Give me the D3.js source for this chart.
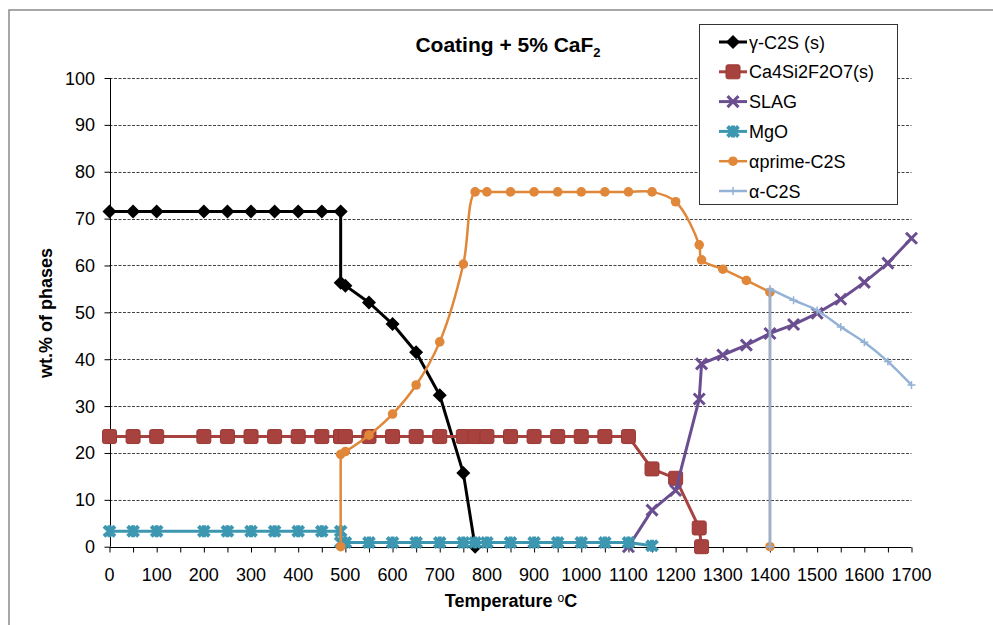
<!DOCTYPE html>
<html>
<head>
    <title>Coating + 5% CaF2</title>
    <style>
        body { margin: 0; background: #fff; }
        text { font-family: "Liberation Sans", Arial, sans-serif; fill: #000; }
        .grid line { stroke: #444; stroke-dasharray: 3,1.5; stroke-width: 1; }
        .tick-label { font-size: 18px; }
        .axis-title { font-size: 18px; font-weight: bold; }
        .legend-text { font-size: 18px; }
    </style>
</head>
<body>
    <div id="chart"></div>

    <script src="https://cdnjs.cloudflare.com/ajax/libs/d3/7.8.5/d3.min.js"></script>
    <script>
        // temperatures (some repeated: two values read at the same temperature)
        var temps = [0, 50, 100, 200, 250, 300, 350, 400, 450, 490, 490, 500, 550, 600, 650, 700, 750, 775,
            800, 850, 900, 950, 1000, 1050, 1100, 1150, 1200, 1250, 1255, 1300, 1350, 1400, 1400,
            1450, 1500, 1550, 1600, 1650, 1700];

        var gammaC2S = [71.5, 71.5, 71.5, 71.5, 71.5, 71.5, 71.5, 71.5, 71.5, 71.5, 56.3, 55.7, 52.1, 47.5, 41.5, 32.3, 15.7, 0,
            null, null, null, null, null, null, null, null, null, null, null, null, null, null, null,
            null, null, null, null, null, null];
        var ca4Si2F2O7 = [23.5, 23.5, 23.5, 23.5, 23.5, 23.5, 23.5, 23.5, 23.5, 23.5, 23.5, 23.5, 23.5, 23.5, 23.5, 23.5, 23.5, 23.5,
            23.5, 23.5, 23.5, 23.5, 23.5, 23.5, 23.5, 16.6, 14.6, 4.0, 0, null, null, null, null,
            null, null, null, null, null, null];
        var slag = [null, null, null, null, null, null, null, null, null, null, null, null, null, null, null, null, null, null,
            null, null, null, null, null, null, 0, 7.8, 12.0, 31.5, 39.0, 40.9, 43.0, 45.5, null,
            47.4, 49.8, 52.8, 56.4, 60.5, 65.8];
        var mgo = [3.3, 3.3, 3.3, 3.3, 3.3, 3.3, 3.3, 3.3, 3.3, 3.3, 0.9, 0.9, 0.9, 0.9, 0.9, 0.9, 0.9, 0.9,
            0.9, 0.9, 0.9, 0.9, 0.9, 0.9, 0.9, 0.2, null, null, null, null, null, null, null,
            null, null, null, null, null, null];
        var alphaPrimeC2S = [null, null, null, null, null, null, null, null, null, 0, 19.7, 20.3, 23.8, 28.3, 34.5, 43.7, 60.3, 75.7,
            75.7, 75.7, 75.7, 75.7, 75.7, 75.7, 75.7, 75.7, 73.6, 64.4, 61.2, 59.2, 56.8, 54.3, 0,
            null, null, null, null, null, null];
        var alphaC2S = [null, null, null, null, null, null, null, null, null, null, null, null, null, null, null, null, null, null,
            null, null, null, null, null, null, null, null, null, null, null, null, null, 0, 55.0,
            52.6, 50.4, 46.9, 43.6, 39.5, 34.5];

        var xTicks = d3.range(0, 1701, 100);
        var xMinorTicks = d3.range(0, 1701, 50);
        var yTicks = d3.range(0, 101, 10);

        var series = [
            { name: "γ-C2S (s)", values: gammaC2S, color: "#000000", marker: "diamond", smooth: false, width: 3 },
            { name: "Ca4Si2F2O7(s)", values: ca4Si2F2O7, color: "#A8423F", marker: "square", smooth: false, width: 3 },
            { name: "SLAG", values: slag, color: "#6A4E90", marker: "cross", smooth: false, width: 3 },
            { name: "MgO", values: mgo, color: "#3D97B1", marker: "star", smooth: false, width: 3 },
            { name: "αprime-C2S", values: alphaPrimeC2S, color: "#E0873A", marker: "circle", smooth: true, width: 2.5 },
            { name: "α-C2S", values: alphaC2S, color: "#94B2D6", marker: "plus", smooth: true, width: 2.5 }
        ];

        var width = 993, height = 625;
        var svg = d3.select("#chart").append("svg")
            .attr("width", width)
            .attr("height", height);

        // chart frame (runs off the right and bottom edge)
        svg.append("rect")
            .attr("x", 9).attr("y", 10)
            .attr("width", 1000).attr("height", 640)
            .attr("fill", "#fff")
            .attr("stroke", "#8a8a8a")
            .attr("stroke-width", 1.5);

        var x = d3.scaleLinear().domain([0, 1700]).range([109.5, 911.5]);
        var y = d3.scaleLinear().domain([0, 100]).range([546.7, 78]);

        // gridlines
        svg.append("g").attr("class", "grid")
            .selectAll("line")
            .data(yTicks.filter(function (d) { return d > 0; }))
            .enter().append("line")
            .attr("x1", x(0)).attr("x2", x(1700))
            .attr("y1", function (d) { return Math.round(y(d)) + 0.5; })
            .attr("y2", function (d) { return Math.round(y(d)) + 0.5; });

        // axes
        var xAxis = d3.axisBottom(x).tickValues(xMinorTicks).tickSize(5).tickFormat("");
        var gx = svg.append("g")
            .attr("transform", "translate(0," + (Math.round(y(0)) + 0.5) + ")")
            .call(xAxis);
        gx.select(".domain").attr("d", "M" + x(0) + ",0H" + x(1700));

        svg.append("g").selectAll("text")
            .data(xTicks)
            .enter().append("text")
            .attr("class", "tick-label")
            .attr("x", function (d) { return x(d); })
            .attr("y", 581)
            .attr("text-anchor", "middle")
            .text(function (d) { return d; });

        var yAxis = d3.axisLeft(y).tickValues(yTicks).tickSize(6).tickFormat("");
        var gy = svg.append("g")
            .attr("transform", "translate(" + (Math.round(x(0)) + 0.5) + ",0)")
            .call(yAxis);
        gy.select(".domain").attr("d", "M0," + y(0) + "V" + y(100));

        svg.append("g").selectAll("text")
            .data(yTicks)
            .enter().append("text")
            .attr("class", "tick-label")
            .attr("x", 95)
            .attr("y", function (d) { return y(d) + 6.5; })
            .attr("text-anchor", "end")
            .text(function (d) { return d; });

        // titles
        var title = svg.append("text")
            .attr("x", 508).attr("y", 52)
            .attr("text-anchor", "middle")
            .style("font-size", "21px")
            .style("font-weight", "bold");
        title.append("tspan").text("Coating  + 5% CaF");
        title.append("tspan").attr("dy", 5).style("font-size", "13px").text("2");

        var xTitle = svg.append("text")
            .attr("class", "axis-title")
            .attr("x", 511).attr("y", 607)
            .attr("text-anchor", "middle");
        xTitle.append("tspan").text("Temperature ");
        xTitle.append("tspan").attr("dy", -5).style("font-size", "12px").style("font-weight", "normal").text("o");
        xTitle.append("tspan").attr("dy", 5).text("C");

        svg.append("text")
            .attr("class", "axis-title")
            .attr("transform", "translate(52,313) rotate(-90)")
            .attr("text-anchor", "middle")
            .text("wt.% of phases");

        // marker shapes
        function drawMarker(g, type, color, px, py) {
            var m = g.append("g").attr("transform", "translate(" + px + "," + py + ")");
            if (type === "diamond") {
                m.append("path").attr("d", "M0,-7L7,0L0,7L-7,0Z").attr("fill", color);
            } else if (type === "square") {
                m.append("rect").attr("x", -7).attr("y", -7).attr("width", 14).attr("height", 14)
                    .attr("rx", 2).attr("fill", color).attr("stroke", "#9a3835").attr("stroke-width", 1);
            } else if (type === "cross") {
                m.append("path").attr("d", "M-5.5,-5.5L5.5,5.5M5.5,-5.5L-5.5,5.5")
                    .attr("stroke", color).attr("stroke-width", 3);
            } else if (type === "star") {
                m.append("path").attr("d", "M-5.5,-5L5.5,5M5.5,-5L-5.5,5M0,-6V6")
                    .attr("stroke", color).attr("stroke-width", 4);
            } else if (type === "circle") {
                m.append("circle").attr("r", 4.8).attr("fill", color);
            } else if (type === "plus") {
                m.append("path").attr("d", "M-4,0H4M0,-4V4")
                    .attr("stroke", color).attr("stroke-width", 1.5);
            }
        }

        // smoothed series: smooth runs between steps, straight vertical jumps
        function seriesPath(pts, smooth) {
            var line = d3.line()
                .x(function (d) { return x(d[0]); })
                .y(function (d) { return y(d[1]); })
                .curve(smooth ? d3.curveCatmullRom.alpha(0.5) : d3.curveLinear);
            if (!smooth) return line(pts);
            var runs = [], run = [pts[0]];
            for (var i = 1; i < pts.length; i++) {
                if (pts[i][0] === pts[i - 1][0]) {
                    runs.push(run);
                    runs.push([pts[i - 1], pts[i]]);
                    run = [pts[i]];
                } else {
                    run.push(pts[i]);
                }
            }
            runs.push(run);
            return runs.filter(function (r) { return r.length > 1; })
                .map(function (r) { return line(r); }).join("");
        }

        // series
        series.forEach(function (s) {
            var pts = [];
            s.values.forEach(function (v, i) {
                if (v !== null) pts.push([temps[i], v]);
            });
            var g = svg.append("g");
            g.append("path")
                .attr("d", seriesPath(pts, s.smooth))
                .attr("fill", "none")
                .attr("stroke", s.color)
                .attr("stroke-width", s.width)
                .attr("stroke-linejoin", "round");
            pts.forEach(function (d) {
                drawMarker(g, s.marker, s.color, x(d[0]), y(d[1]));
            });
        });

        // legend
        var legend = svg.append("g");
        legend.append("rect")
            .attr("x", 699.5).attr("y", 24.5)
            .attr("width", 198).attr("height", 180)
            .attr("fill", "#fff")
            .attr("stroke", "#333")
            .attr("stroke-width", 1);

        series.forEach(function (s, i) {
            var cy = 42 + i * 29.8;
            var row = legend.append("g");
            row.append("line")
                .attr("x1", 719).attr("x2", 747)
                .attr("y1", cy).attr("y2", cy)
                .attr("stroke", s.color)
                .attr("stroke-width", s.width);
            drawMarker(row, s.marker, s.color, 733, cy);
            row.append("text")
                .attr("class", "legend-text")
                .attr("x", 749)
                .attr("y", cy + 6.5)
                .text(s.name);
        });
    </script>
</body>
</html>
